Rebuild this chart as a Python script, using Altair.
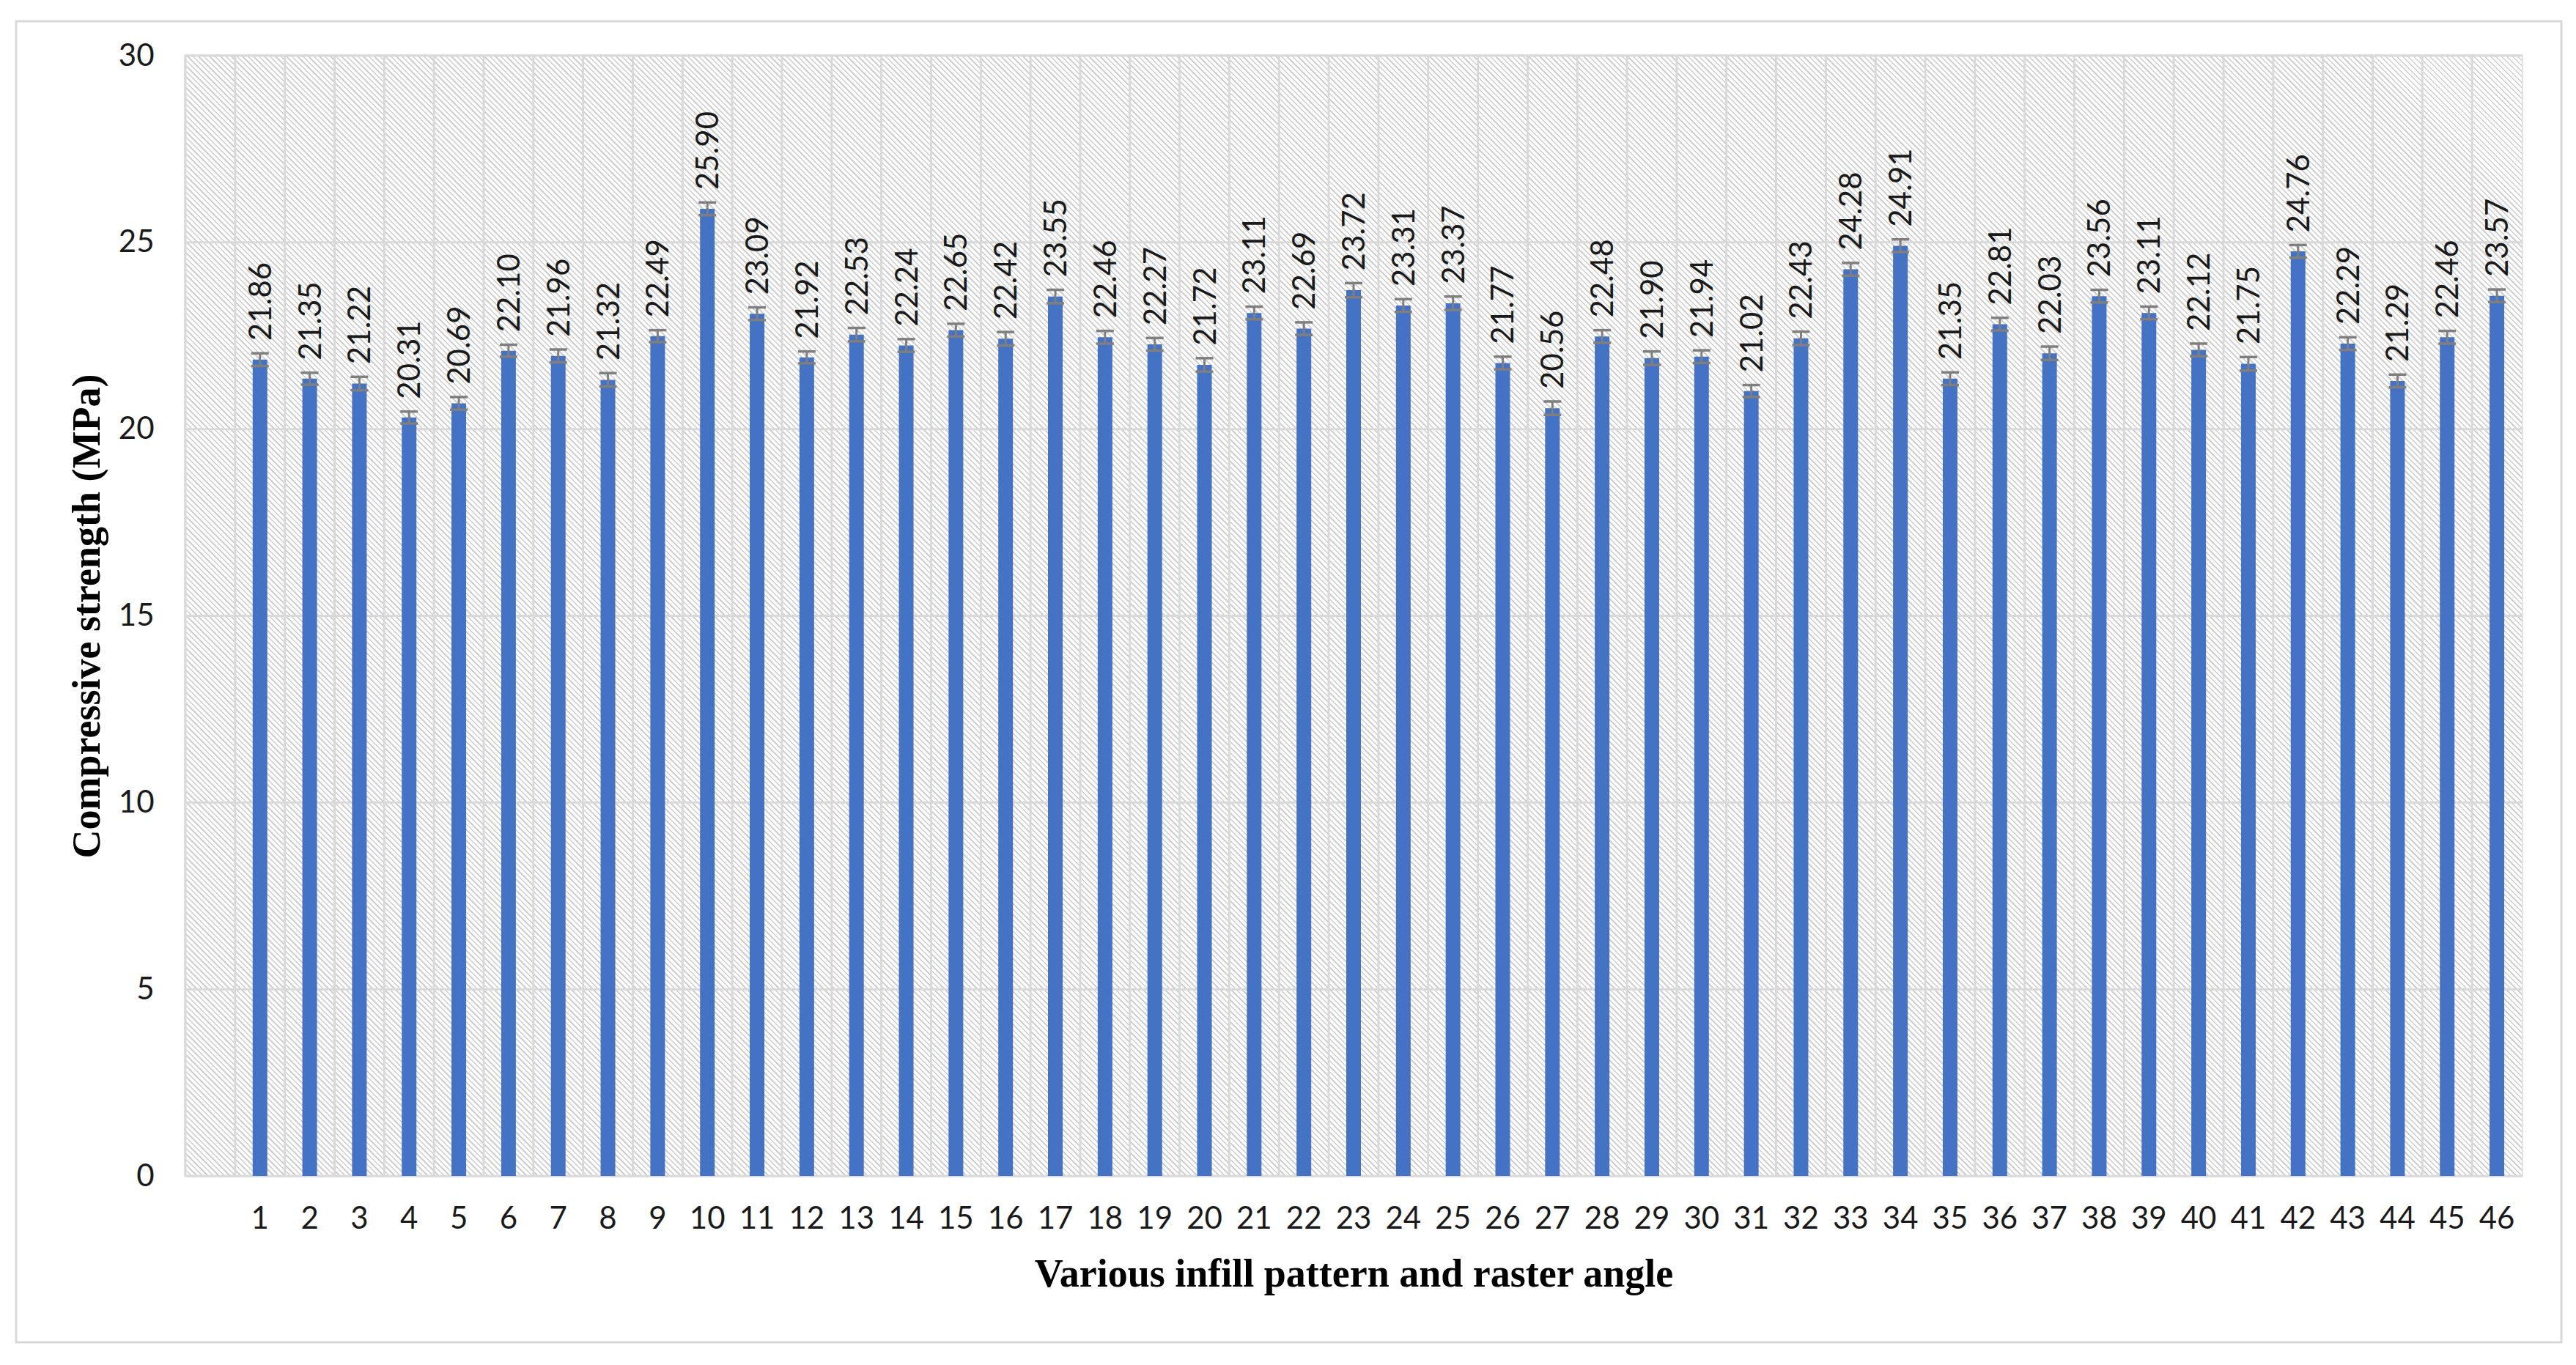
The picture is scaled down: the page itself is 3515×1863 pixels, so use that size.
import altair as alt
import pandas as pd

# ---------------- data ----------------
categories = [str(i) for i in range(1, 47)]
strength = [21.86, 21.35, 21.22, 20.31, 20.69, 22.10, 21.96, 21.32, 22.49, 25.90,
            23.09, 21.92, 22.53, 22.24, 22.65, 22.42, 23.55, 22.46, 22.27, 21.72,
            23.11, 22.69, 23.72, 23.31, 23.37, 21.77, 20.56, 22.48, 21.90, 21.94,
            21.02, 22.43, 24.28, 24.91, 21.35, 22.81, 22.03, 23.56, 23.11, 22.12,
            21.75, 24.76, 22.29, 21.29, 22.46, 23.57]
error = [0.17, 0.16, 0.18, 0.16, 0.17, 0.16, 0.17, 0.18, 0.16, 0.17,
         0.17, 0.16, 0.18, 0.17, 0.17, 0.18, 0.18, 0.17, 0.17, 0.18,
         0.17, 0.17, 0.19, 0.17, 0.18, 0.17, 0.18, 0.17, 0.18, 0.17,
         0.16, 0.18, 0.17, 0.17, 0.17, 0.17, 0.18, 0.17, 0.17, 0.17,
         0.18, 0.17, 0.17, 0.17, 0.17, 0.17]
y_ticks = [0, 5, 10, 15, 20, 25, 30]
x_domain = [" "] + categories  # leading empty slot as in the original
x_title = "Various infill pattern and raster angle"
y_title = "Compressive strength (MPa)"

# ---------------- layout ----------------
W, H = 3188, 1529
PAD = {"left": 253, "top": 76, "right": 74, "bottom": 258}
BAR_COLOR = "#4472c4"
ERR_COLOR = "#7f7f7f"
GRID_COLOR = "#d9d9d9"
TEXT_COLOR = "#1a1a1a"
STRIPE_COLOR = "#d0d0d0"

df = pd.DataFrame({"cat": categories, "value": strength, "err": error})
df["lo"] = df["value"] - df["err"]
df["hi"] = df["value"] + df["err"]

xscale = alt.Scale(domain=x_domain, paddingInner=0, paddingOuter=0)
yscale = alt.Scale(domain=[0, 30], nice=False, zero=True)

xaxis = alt.Axis(title=x_title, labelAngle=0, grid=False, ticks=False, tickSize=0,
                 domain=False, labelFont="Lato", labelFontSize=42, labelColor=TEXT_COLOR,
                 labelPadding=38, titleFont="Liberation Serif", titleFontWeight="bold",
                 titleFontSize=54, titleColor="#000000", titleBaseline="alphabetic",
                 titleX=W / 2, titleY=150, titleAnchor="middle")
yaxis = alt.Axis(title=y_title, values=y_ticks, grid=False, ticks=False, tickSize=0,
                 domain=False, labelFont="Lato", labelFontSize=42, labelColor=TEXT_COLOR,
                 labelPadding=43, titleFont="Liberation Serif", titleFontWeight="bold",
                 titleFontSize=54, titleColor="#000000", titleBaseline="alphabetic",
                 titleAngle=270, titleX=-118, titleY=H / 2, titleAnchor="middle")

X = lambda f: alt.X(f"{f}:O", scale=xscale, axis=xaxis, sort=x_domain)

# ---------------- hatch background (diagonal stripes via gradient) ----------------
r = H / W
k = (1 + r) / (1 + r * r)
n_stripes = 629
frac = 0.33
stops = []
for i in range(n_stripes):
    s0 = round(i / n_stripes, 6)
    s1 = round((i + frac) / n_stripes, 6)
    s2 = round((i + 1) / n_stripes, 6)
    stops += [alt.GradientStop(offset=s0, color=STRIPE_COLOR),
              alt.GradientStop(offset=s1, color=STRIPE_COLOR),
              alt.GradientStop(offset=s1, color="#ffffff"),
              alt.GradientStop(offset=s2, color="#ffffff")]
hatch_grad = alt.LinearGradient(gradient="linear", stops=stops,
                                x1=0, y1=1, x2=round(k, 5), y2=round(1 - r * k, 5))

one = alt.Data(values=[{"k": 0}])

frame = alt.Chart(one).mark_rect(filled=False, stroke=GRID_COLOR, strokeWidth=3).encode(
    x=alt.value(-231), x2=alt.value(W + 54), y=alt.value(-47), y2=alt.value(H + 227))

hatch = alt.Chart(one).mark_rect(fill=hatch_grad, strokeWidth=0).encode(
    x=alt.value(0), x2=alt.value(W), y=alt.value(0), y2=alt.value(H))

vgrid = alt.Chart(pd.DataFrame({"cat": x_domain})).mark_rule(
    color=GRID_COLOR, strokeWidth=3).encode(
    x=alt.X("cat:O", scale=xscale, axis=xaxis, sort=x_domain, bandPosition=0))

hgrid = alt.Chart(pd.DataFrame({"value": y_ticks})).mark_rule(
    color=GRID_COLOR, strokeWidth=3).encode(
    y=alt.Y("value:Q", scale=yscale, axis=yaxis))

bars = alt.Chart(df).mark_bar(width=20, color=BAR_COLOR).encode(
    x=X("cat"), y=alt.Y("value:Q", scale=yscale, axis=yaxis))

stems = alt.Chart(df).mark_rule(color=ERR_COLOR, strokeWidth=3).encode(
    x=X("cat"), y=alt.Y("lo:Q", scale=yscale, axis=yaxis), y2="hi:Q")

cap_hi = alt.Chart(df).mark_tick(orient="horizontal", size=24, thickness=3.5,
                                 color=ERR_COLOR, opacity=1).encode(
    x=X("cat"), y=alt.Y("hi:Q", scale=yscale, axis=yaxis))
cap_lo = alt.Chart(df).mark_tick(orient="horizontal", size=24, thickness=3.5,
                                 color=ERR_COLOR, opacity=1).encode(
    x=X("cat"), y=alt.Y("lo:Q", scale=yscale, axis=yaxis))

labels = alt.Chart(df).mark_text(angle=270, align="left", baseline="alphabetic",
                                 dx=17, dy=15, font="Lato", fontSize=42,
                                 color=TEXT_COLOR).encode(
    x=X("cat"), y=alt.Y("hi:Q", scale=yscale, axis=yaxis),
    text=alt.Text("value:Q", format=".2f"))

chart = alt.layer(frame, hatch, vgrid, hgrid, bars, stems, cap_lo, cap_hi, labels).properties(
    width=W, height=H, padding=PAD, autosize=alt.AutoSizeParams(type="none"),
    background="#ffffff"
).configure_view(stroke=GRID_COLOR, strokeWidth=3)

chart.save("out.html", embed_options={"renderer": "svg", "actions": False})
